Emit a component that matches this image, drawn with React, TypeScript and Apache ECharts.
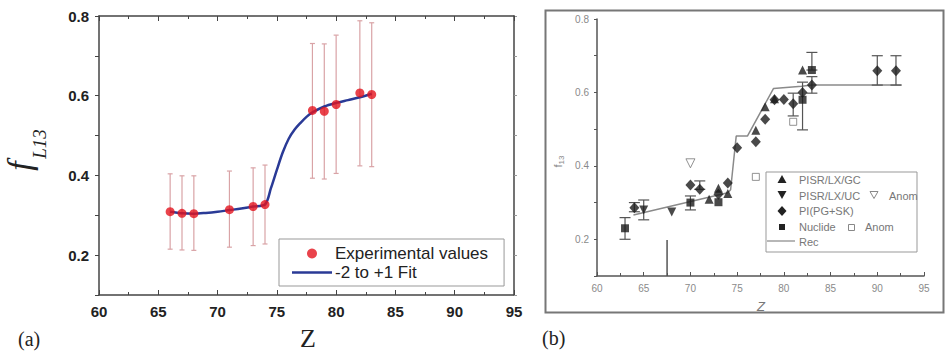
import React, { useEffect, useRef } from 'react';
import * as echarts from 'echarts';

// ---------- Panel (a) data ----------
const zA = [66, 67, 68, 71, 73, 74, 78, 79, 80, 82, 83];
const fA = [0.309, 0.305, 0.304, 0.314, 0.322, 0.327, 0.563, 0.561, 0.578, 0.607, 0.603];
const errLowA = [0.215, 0.213, 0.212, 0.220, 0.224, 0.228, 0.393, 0.391, 0.405, 0.424, 0.422];
const errHighA = [0.404, 0.399, 0.399, 0.411, 0.419, 0.426, 0.731, 0.730, 0.752, 0.788, 0.783];
const fitZ = [66, 67, 68, 69, 70, 71, 72, 73, 74, 74.5, 75, 75.5, 76, 76.5, 77, 77.5, 78, 79, 80, 81, 82, 83];
const fitF = [0.309, 0.305, 0.304, 0.306, 0.309, 0.313, 0.317, 0.322, 0.327, 0.368, 0.414, 0.458, 0.492, 0.515, 0.532, 0.547, 0.558, 0.573, 0.582, 0.589, 0.596, 0.605];

// ---------- Panel (b) data ----------
const gcPts = [[72, 0.309], [73, 0.339], [74, 0.325], [77, 0.497], [78, 0.561], [79, 0.583], [82, 0.661]];
const ucPts = [[65, 0.280], [68, 0.274]];
const piPts = [[64, 0.286], [70, 0.348], [71, 0.336], [73, 0.323], [74, 0.353], [75, 0.449], [77, 0.466], [78, 0.527], [79, 0.580], [80, 0.581], [81, 0.569], [82, 0.600], [83, 0.620], [90, 0.659], [92, 0.659]];
const nuclidePts = [[63, 0.230], [70, 0.300], [73, 0.301], [82, 0.580], [83, 0.661]];
const anomTriPts = [[70, 0.407]];
const anomSqPts = [[77, 0.370], [81, 0.520]];
const errB = [[63, 0.200, 0.259], [64, 0.275, 0.300], [65, 0.253, 0.307], [70, 0.280, 0.318], [71, 0.336, 0.359], [81, 0.536, 0.598], [82, 0.498, 0.628], [83, 0.598, 0.643], [83, 0.661, 0.709], [90, 0.620, 0.700], [92, 0.620, 0.700]];
const recZ = [63.9, 74.0, 74.3, 74.9, 76.1, 78.9, 81.9, 83.0, 92.6];
const recF = [0.266, 0.327, 0.335, 0.481, 0.481, 0.611, 0.617, 0.620, 0.620];
const markerZ = [67.5, 67.5];
const markerF = [0.1, 0.198];

const xTicks = [60, 65, 70, 75, 80, 85, 90, 95];
const yTickLabels = ['0.2', '0.4', '0.6', '0.8'];

const errorRender = (capW: number, color: string, width: number) => (params: any, api: any) => {
  const x = api.value(0);
  const lo = api.coord([x, api.value(1)]);
  const hi = api.coord([x, api.value(2)]);
  const style = { stroke: color, lineWidth: width, fill: 'none' };
  return {
    type: 'group',
    children: [
      { type: 'line', shape: { x1: lo[0], y1: lo[1], x2: hi[0], y2: hi[1] }, style },
      { type: 'line', shape: { x1: lo[0] - capW, y1: lo[1], x2: lo[0] + capW, y2: lo[1] }, style },
      { type: 'line', shape: { x1: hi[0] - capW, y1: hi[1], x2: hi[0] + capW, y2: hi[1] }, style },
    ],
  };
};

const yFmt = (v: number) => {
  const s = v.toFixed(1);
  return yTickLabels.includes(s) ? s : '';
};
const xFmt = (v: number) => (xTicks.includes(Math.round(v)) ? String(Math.round(v)) : '');

export default function App() {
  const ref = useRef<HTMLDivElement>(null);
  useEffect(() => {
    if (!ref.current) return;
    const chart = echarts.init(ref.current, undefined, { renderer: 'svg' });
    const axA = '#444';
    const axB = '#555';
    const serif = 'Liberation Serif, Times New Roman, serif';
    const sans = 'Arial, Liberation Sans';
    const option: any = {
      animation: false,
      backgroundColor: '#fff',
      grid: [
        { left: 99, top: 16, width: 415, height: 279 },
        { left: 597, top: 19, width: 327, height: 257 },
      ],
      xAxis: [
        {
          gridIndex: 0, type: 'value', min: 60, max: 95, interval: 5,
          axisLine: { lineStyle: { color: axA, width: 1.5 } },
          axisTick: { inside: true, length: 5, lineStyle: { color: axA } },
          minorTick: { show: true, splitNumber: 2, length: 3, lineStyle: { color: axA } },
          axisLabel: { formatter: xFmt, margin: 9, fontSize: 15, fontWeight: 'bold', fontFamily: sans, color: '#222' },
          splitLine: { show: false },
        },
        {
          gridIndex: 0, type: 'value', min: 60, max: 95, interval: 5, position: 'top',
          axisLine: { lineStyle: { color: axA, width: 1.5 } },
          axisTick: { inside: true, length: 5, lineStyle: { color: axA } },
          minorTick: { show: true, splitNumber: 2, length: 3, lineStyle: { color: axA } },
          axisLabel: { show: false },
          splitLine: { show: false },
        },
        {
          gridIndex: 1, type: 'value', min: 60, max: 95, interval: 5,
          axisLine: { lineStyle: { color: axB, width: 1.5 } },
          axisTick: { inside: true, length: 4, lineStyle: { color: axB } },
          minorTick: { show: true, splitNumber: 2, length: 3, lineStyle: { color: axB } },
          axisLabel: { formatter: xFmt, margin: 7, fontSize: 10, fontFamily: sans, color: '#8a8a8a' },
          splitLine: { show: false },
        },
      ],
      yAxis: [
        {
          gridIndex: 0, type: 'value', min: 0.1, max: 0.8, interval: 0.1,
          axisLine: { show: true, lineStyle: { color: axA, width: 1.5 } },
          axisTick: { show: true, length: 4, lineStyle: { color: axA } },
          axisLabel: { formatter: yFmt, margin: 10, fontSize: 15, fontWeight: 'bold', fontFamily: sans, color: '#222' },
          splitLine: { show: false },
        },
        {
          gridIndex: 0, type: 'value', min: 0.1, max: 0.8, interval: 0.1, position: 'right',
          axisLine: { show: true, lineStyle: { color: axA, width: 1.5 } },
          axisTick: { show: true, length: 3, lineStyle: { color: '#999' } },
          axisLabel: { show: false },
          splitLine: { show: false },
        },
        {
          gridIndex: 1, type: 'value', min: 0.1, max: 0.8, interval: 0.1,
          axisLine: { show: true, lineStyle: { color: axB, width: 1.5 } },
          axisTick: { show: true, length: 3, lineStyle: { color: axB } },
          axisLabel: { formatter: yFmt, margin: 8, fontSize: 10, fontFamily: sans, color: '#8a8a8a' },
          splitLine: { show: false },
        },
      ],
      legend: [
        {
          left: 279, top: 239, orient: 'vertical', selectedMode: false,
          data: [
            { name: 'Experimental values' },
            { name: '-2 to +1 Fit', icon: 'path://M0,0 L40,0 L40,2.6 L0,2.6 Z' },
          ],
          borderColor: '#999', borderWidth: 1, padding: [6, 16, 5, 13],
          itemGap: 2, itemWidth: 40, itemHeight: 10,
          textStyle: { fontSize: 17, fontFamily: sans, color: '#222', padding: [0, 0, 0, -2] },
        },
      ],
      series: [
        {
          type: 'custom', name: 'errA', xAxisIndex: 0, yAxisIndex: 0,
          renderItem: errorRender(2.5, '#d9a3a6', 1.2),
          encode: { x: 0, y: [1, 2] },
          data: zA.map((z, i) => [z, errLowA[i], errHighA[i]]),
          z: 1,
        },
        {
          type: 'line', name: '-2 to +1 Fit', xAxisIndex: 0, yAxisIndex: 0,
          data: fitZ.map((z, i) => [z, fitF[i]]), smooth: 0.3, symbol: 'none', showSymbol: false,
          lineStyle: { color: '#2a3a96', width: 2.5 }, itemStyle: { color: '#2a3a96' }, z: 2,
        },
        {
          type: 'scatter', name: 'Experimental values', xAxisIndex: 0, yAxisIndex: 0,
          data: zA.map((z, i) => [z, fA[i]]), symbol: 'circle', symbolSize: 9,
          itemStyle: { color: '#e3141e' }, z: 3,
        },
        // panel (b)
        {
          type: 'line', name: 'Rec', xAxisIndex: 2, yAxisIndex: 2,
          data: recZ.map((z, i) => [z, recF[i]]), symbol: 'none', showSymbol: false,
          lineStyle: { color: '#8a8a8a', width: 1.5 }, z: 1,
        },
        {
          type: 'line', name: 'marker', xAxisIndex: 2, yAxisIndex: 2,
          data: markerZ.map((z, i) => [z, markerF[i]]), symbol: 'none', showSymbol: false,
          lineStyle: { color: '#555', width: 1.5 }, z: 1,
        },
        {
          type: 'custom', name: 'errB', xAxisIndex: 2, yAxisIndex: 2,
          renderItem: errorRender(5.5, '#555', 1.2),
          encode: { x: 0, y: [1, 2] },
          data: errB, z: 2,
        },
        {
          type: 'scatter', name: 'PISR/LX/GC', xAxisIndex: 2, yAxisIndex: 2,
          data: gcPts, symbol: 'triangle', symbolSize: 9, itemStyle: { color: '#1c1c1c' }, z: 3,
        },
        {
          type: 'scatter', name: 'PISR/LX/UC', xAxisIndex: 2, yAxisIndex: 2,
          data: ucPts, symbol: 'triangle', symbolRotate: 180, symbolSize: 9, itemStyle: { color: '#1c1c1c' }, z: 3,
        },
        {
          type: 'scatter', name: 'PI(PG+SK)', xAxisIndex: 2, yAxisIndex: 2,
          data: piPts, symbol: 'diamond', symbolSize: [10, 11], itemStyle: { color: '#1c1c1c' }, z: 3,
        },
        {
          type: 'scatter', name: 'Nuclide', xAxisIndex: 2, yAxisIndex: 2,
          data: nuclidePts, symbol: 'rect', symbolSize: 8, itemStyle: { color: '#1c1c1c' }, z: 3,
        },
        {
          type: 'scatter', name: 'Anom', xAxisIndex: 2, yAxisIndex: 2,
          data: anomTriPts, symbol: 'triangle', symbolRotate: 180, symbolSize: 9,
          itemStyle: { color: '#fff', borderColor: '#777', borderWidth: 1 }, z: 3,
        },
        {
          type: 'scatter', name: 'Anom ', xAxisIndex: 2, yAxisIndex: 2,
          data: anomSqPts, symbol: 'rect', symbolSize: 7,
          itemStyle: { color: '#fff', borderColor: '#777', borderWidth: 1 }, z: 3,
        },
      ],
      graphic: [
        // panel (a) texts
        { type: 'text', left: 18, top: 329, style: { text: '(a)', fontSize: 20, fontFamily: serif, fill: '#222' } },
        { type: 'text', x: 308, y: 338, style: { text: 'Z', fontSize: 26, fontFamily: serif, fill: '#222', align: 'center', verticalAlign: 'middle' } },
        { type: 'text', x: 19, y: 166, rotation: Math.PI / 2, style: { text: 'f', fontSize: 34, fontStyle: 'italic', fontFamily: serif, fill: '#222', align: 'center', verticalAlign: 'middle' } },
        { type: 'text', x: 39, y: 144, rotation: Math.PI / 2, style: { text: 'L13', fontSize: 19, fontStyle: 'italic', fontFamily: serif, fill: '#222', align: 'center', verticalAlign: 'middle' } },
        // panel (b) frame and texts
        { type: 'rect', shape: { x: 545.5, y: 10.5, width: 398, height: 302 }, style: { fill: 'none', stroke: '#777', lineWidth: 2 }, z: -1 },
        { type: 'text', left: 542, top: 328, style: { text: '(b)', fontSize: 20, fontFamily: serif, fill: '#222' } },
        { type: 'text', x: 761, y: 306, style: { text: 'Z', fontSize: 13, fontStyle: 'italic', fontFamily: sans, fill: '#777', align: 'center', verticalAlign: 'middle' } },
        { type: 'text', x: 558, y: 166, rotation: Math.PI / 2, style: { text: 'f', fontSize: 11, fontFamily: sans, fill: '#888', align: 'center', verticalAlign: 'middle' } },
        { type: 'text', x: 561, y: 160, rotation: Math.PI / 2, style: { text: '13', fontSize: 8, fontFamily: sans, fill: '#888', align: 'center', verticalAlign: 'middle' } },
        // panel (b) legend
        { type: 'rect', shape: { x: 766, y: 172, width: 151, height: 80 }, style: { fill: 'none', stroke: '#999', lineWidth: 1 } },
        { type: 'polygon', shape: { points: [[782, 175], [777.5, 183], [786.5, 183]] }, style: { fill: '#222' } },
        { type: 'polygon', shape: { points: [[777.5, 191], [786.5, 191], [782, 199]] }, style: { fill: '#222' } },
        { type: 'polygon', shape: { points: [[870, 191.5], [878, 191.5], [874, 198.5]] }, style: { fill: '#fff', stroke: '#888', lineWidth: 1 } },
        { type: 'polygon', shape: { points: [[782, 206], [786.5, 211], [782, 216], [777.5, 211]] }, style: { fill: '#222' } },
        { type: 'rect', shape: { x: 779, y: 224, width: 6, height: 6 }, style: { fill: '#222' } },
        { type: 'rect', shape: { x: 848.5, y: 224.5, width: 6, height: 6 }, style: { fill: '#fff', stroke: '#888', lineWidth: 1 } },
        { type: 'line', shape: { x1: 767, y1: 241, x2: 795, y2: 241 }, style: { stroke: '#888', lineWidth: 1.2 } },
        { type: 'text', x: 799, y: 180, style: { text: 'PISR/LX/GC', fontSize: 11, fontFamily: sans, fill: '#777', verticalAlign: 'middle' } },
        { type: 'text', x: 799, y: 196, style: { text: 'PISR/LX/UC', fontSize: 11, fontFamily: sans, fill: '#777', verticalAlign: 'middle' } },
        { type: 'text', x: 889, y: 196, style: { text: 'Anom', fontSize: 11, fontFamily: sans, fill: '#777', verticalAlign: 'middle' } },
        { type: 'text', x: 799, y: 211, style: { text: 'PI(PG+SK)', fontSize: 11, fontFamily: sans, fill: '#777', verticalAlign: 'middle' } },
        { type: 'text', x: 799, y: 227, style: { text: 'Nuclide', fontSize: 11, fontFamily: sans, fill: '#777', verticalAlign: 'middle' } },
        { type: 'text', x: 865, y: 227, style: { text: 'Anom', fontSize: 11, fontFamily: sans, fill: '#777', verticalAlign: 'middle' } },
        { type: 'text', x: 799, y: 242, style: { text: 'Rec', fontSize: 11, fontFamily: sans, fill: '#777', verticalAlign: 'middle' } },
      ],
    };
    chart.setOption(option);
    return () => chart.dispose();
  }, []);
  return <div ref={ref} style={{ width: 945, height: 353, position: 'absolute', left: 0, top: 0 }} />;
}
